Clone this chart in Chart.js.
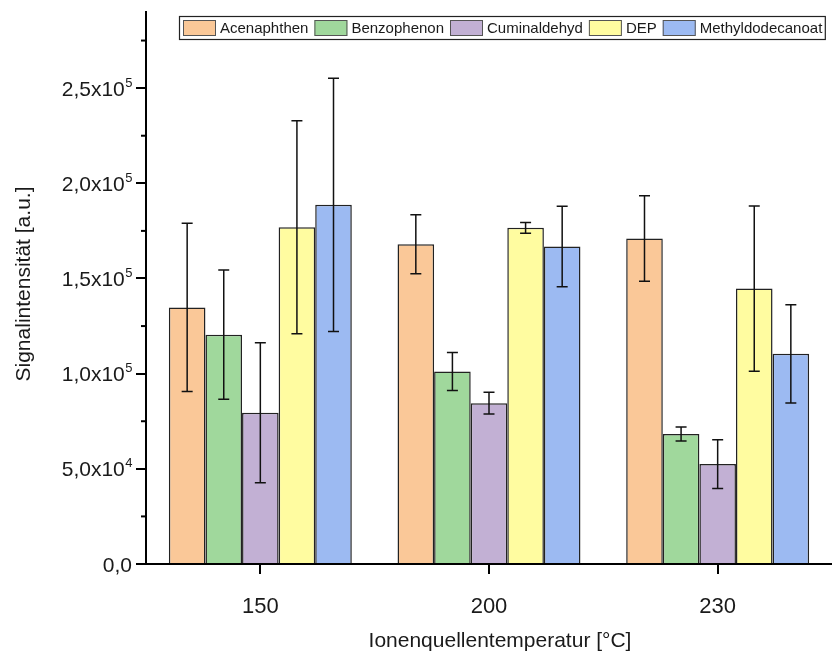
<!DOCTYPE html>
<html>
<head>
<meta charset="utf-8">
<script src="https://cdn.jsdelivr.net/npm/chart.js@4/dist/chart.umd.min.js"></script>
<style>
  html, body { margin: 0; padding: 0; background: #fff; }
  canvas { display: block; }
</style>
</head>
<body>
<canvas id="chart" width="832" height="655"></canvas>
<script>
const categories = ['150', '200', '230']
const seriesNames = ['Acenaphthen', 'Benzophenon', 'Cuminaldehyd', 'DEP', 'Methyldodecanoat']

const acenaphthen = [134800, 168000, 171000]
const benzophenon = [120500, 101100, 68300]
const cuminaldehyd = [79500, 84500, 52500]
const dep = [176900, 176600, 144700]
const methyldodecanoat = [188700, 166800, 110400]

const acenaphthenErr = [44200, 15500, 22500]
const benzophenonErr = [34000, 10000, 3700]
const cuminaldehydErr = [36800, 5700, 12800]
const depErr = [56000, 2800, 43400]
const methyldodecanoatErr = [66500, 21200, 25800]

const yTickValues = [0, 50000, 100000, 150000, 200000, 250000]
const yTickLabels = [['0,0', ''], ['5,0x10', '4'], ['1,0x10', '5'], ['1,5x10', '5'], ['2,0x10', '5'], ['2,5x10', '5']]

const colors = ['#fac898', '#a0d89c', '#c2b0d4', '#fffca0', '#9cbaf2']

const FONT = '"Liberation Sans", Arial, sans-serif'
const TEXT = '#1a1a1a'

const values = [acenaphthen, benzophenon, cuminaldehyd, dep, methyldodecanoat]
const errors = [acenaphthenErr, benzophenonErr, cuminaldehydErr, depErr, methyldodecanoatErr]

const datasets = seriesNames.map((name, i) => ({
  label: name,
  data: values[i],
  errors: errors[i],
  backgroundColor: colors[i],
  borderColor: '#222',
  borderWidth: 1.5,
  barPercentage: 1.0,
  categoryPercentage: 0.8
}))

// error bars, minor ticks, y labels with superscript, titles and the legend box
const decorations = {
  id: 'decorations',
  afterDatasetsDraw(chart) {
    const ctx = chart.ctx
    const y = chart.scales.y
    ctx.save()
    ctx.strokeStyle = '#111'
    ctx.lineWidth = 1.5
    chart.data.datasets.forEach((ds, i) => {
      chart.getDatasetMeta(i).data.forEach((bar, j) => {
        const top = y.getPixelForValue(ds.data[j] + ds.errors[j])
        const bot = y.getPixelForValue(ds.data[j] - ds.errors[j])
        ctx.beginPath()
        ctx.moveTo(bar.x, top)
        ctx.lineTo(bar.x, bot)
        ctx.moveTo(bar.x - 5.5, top)
        ctx.lineTo(bar.x + 5.5, top)
        ctx.moveTo(bar.x - 5.5, bot)
        ctx.lineTo(bar.x + 5.5, bot)
        ctx.stroke()
      })
    })
    ctx.restore()
  },
  afterDraw(chart) {
    const ctx = chart.ctx
    const y = chart.scales.y
    const area = chart.chartArea
    ctx.save()

    // minor ticks
    ctx.strokeStyle = '#000'
    ctx.lineWidth = 2
    for (let v = 25000; v < y.max; v += 50000) {
      const py = y.getPixelForValue(v)
      ctx.beginPath()
      ctx.moveTo(area.left, py)
      ctx.lineTo(area.left - 5, py)
      ctx.stroke()
    }

    // y tick labels
    ctx.fillStyle = TEXT
    ctx.textBaseline = 'alphabetic'
    ctx.textAlign = 'left'
    yTickValues.forEach((v, i) => {
      const [main, sup] = yTickLabels[i]
      const py = y.getPixelForValue(v)
      ctx.font = '13px ' + FONT
      const supW = sup ? ctx.measureText(sup).width : 0
      ctx.font = '21px ' + FONT
      const mainW = ctx.measureText(main).width
      const right = area.left - 14
      const x0 = right - supW - mainW
      ctx.fillText(main, x0, py + 7.5)
      if (sup) {
        ctx.font = '13px ' + FONT
        ctx.fillText(sup, x0 + mainW + 0.5, py - 1.5)
      }
    })

    // axis titles
    ctx.font = '21px ' + FONT
    ctx.textAlign = 'center'
    ctx.textBaseline = 'middle'
    ctx.fillText('Ionenquellentemperatur [°C]', 500, 641)
    ctx.save()
    ctx.translate(24, 284)
    ctx.rotate(-Math.PI / 2)
    ctx.fillText('Signalintensität [a.u.]', 0, 0)
    ctx.restore()

    // legend
    ctx.font = '15px ' + FONT
    ctx.textAlign = 'left'
    ctx.textBaseline = 'middle'
    let lx = 183
    const ly = 20
    const items = chart.data.datasets.map(ds => {
      const w = ctx.measureText(ds.label).width
      return { ds, w }
    })
    const totalRight = items.reduce((acc, it) => acc + 33 + 4 + it.w + 6, lx) - 6 + 3
    ctx.fillStyle = '#fff'
    ctx.fillRect(179.5, 16.5, totalRight - 179.5, 23)
    ctx.strokeStyle = '#222'
    ctx.lineWidth = 1.2
    ctx.strokeRect(179.5, 16.5, totalRight - 179.5, 23)
    items.forEach(({ ds, w }) => {
      ctx.fillStyle = ds.backgroundColor
      ctx.fillRect(lx, ly, 33, 16)
      ctx.strokeStyle = '#555'
      ctx.lineWidth = 1
      ctx.strokeRect(lx + 0.5, ly + 0.5, 32, 15)
      ctx.fillStyle = TEXT
      ctx.fillText(ds.label, lx + 37, ly + 8.5)
      lx += 33 + 4 + w + 6
    })
    ctx.restore()
  }
}

const config = {
  type: 'bar',
  data: {
    labels: categories,
    datasets: datasets
  },
  options: {
    responsive: false,
    animation: false,
    layout: { padding: { top: 12, right: 0, left: 0, bottom: 0 } },
    plugins: {
      legend: { display: false },
      tooltip: { enabled: false }
    },
    scales: {
      x: {
        type: 'category',
        offset: true,
        grid: { offset: false, drawOnChartArea: false, drawTicks: true, tickLength: 10, color: '#000', lineWidth: 2 },
        border: { color: '#000', width: 2 },
        ticks: {
          color: TEXT,
          padding: 20,
          font: { family: FONT, size: 22 }
        },
        afterFit(scale) { scale.height = 91 }
      },
      y: {
        min: 0,
        max: 290000,
        grid: { drawOnChartArea: false, drawTicks: true, tickLength: 10, color: '#000', lineWidth: 2 },
        border: { color: '#000', width: 2 },
        ticks: { display: false, stepSize: 50000 },
        afterBuildTicks(scale) {
          scale.ticks = yTickValues.map(v => ({ value: v }))
        },
        afterFit(scale) { scale.width = 146 }
      }
    }
  },
  plugins: [decorations]
}

const chart = new Chart(document.getElementById('chart').getContext('2d'), config)
</script>
</body>
</html>
